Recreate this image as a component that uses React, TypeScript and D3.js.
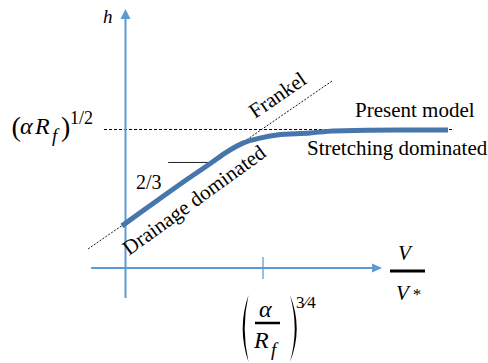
import React from 'react';
import * as d3 from 'd3';

// Present model curve (V/V*, h) in chart units
const curveV = [-0.13, 0.82, 2.05, 3.11, 3.62, 4.27, 4.89, 5.51, 6.71, 7.55, 9.98, 11.73];
const curveH = [1.52, 2.2, 3.07, 3.79, 4.15, 4.51, 4.69, 4.8, 4.87, 4.95, 4.98, 4.98];
// Frankel law (straight line, slope 2/3)
const frankelV = [-1.36, 7.51];
const frankelH = [0.69, 6.75];
// plateau (alpha R_f)^{1/2}
const plateauV = [-0.78, 11.95];
const plateauH = 5;
// slope marker
const slopeMarkV = [1.55, 3.11];
const slopeMarkH = 3.81;
// x tick at (alpha/R_f)^{3/4}
const xTick = 5;
const xAxisExtent = [-1.25, 9.33];
const yAxisExtent = [-1.08, 9.35];

const FONT = "'Liberation Serif', 'Times New Roman', Times, serif";
const AXIS = '#5b9bd5';
const CURVE = '#4676ab';

export default function App() {
  const x = d3.scaleLinear().domain([0, 5]).range([125.5, 263]);
  const y = d3.scaleLinear().domain([0, 5]).range([268, 129.5]);

  const pts: [number, number][] = curveV.map((v, i) => [v, curveH[i]]);
  const line = d3
    .line<[number, number]>()
    .x((d) => x(d[0]))
    .y((d) => y(d[1]))
    .curve(d3.curveMonotoneX);

  const x0 = x(0);
  const y0 = y(0);
  const xTip = x(xAxisExtent[1]);
  const yTip = y(yAxisExtent[1]);

  const xt = x(xTick);

  // big parentheses around alpha/R_f
  const pTop = 295;
  const pBot = 362;
  const pMid = (pTop + pBot) / 2;
  const lp = 248.5;
  const rp = 290;

  const tf: React.CSSProperties = { fontFamily: FONT };

  return (
    <svg
      width={488}
      height={363}
      style={{ position: 'absolute', left: 0, top: 0, background: '#fff', fontFamily: FONT }}
    >
      <rect width={488} height={363} fill="#fff" />
      {/* plateau dashed line */}
      <line
        x1={x(plateauV[0])}
        x2={x(plateauV[1])}
        y1={y(plateauH)}
        y2={y(plateauH)}
        stroke="#000"
        strokeWidth={1}
        strokeDasharray="3,2"
      />
      {/* Frankel dotted line */}
      <line
        x1={x(frankelV[0])}
        y1={y(frankelH[0])}
        x2={x(frankelV[1])}
        y2={y(frankelH[1])}
        stroke="#000"
        strokeWidth={0.9}
        strokeDasharray="2,1.5"
      />
      {/* axes */}
      <line x1={x(xAxisExtent[0])} x2={xTip - 9} y1={y0} y2={y0} stroke={AXIS} strokeWidth={2} />
      <polygon points={`${xTip},${y0} ${xTip - 10},${y0 - 4.5} ${xTip - 10},${y0 + 4.5}`} fill={AXIS} />
      <line x1={x0} x2={x0} y1={y(yAxisExtent[0])} y2={yTip + 9} stroke={AXIS} strokeWidth={2} />
      <polygon points={`${x0},${yTip} ${x0 - 5},${yTip + 10} ${x0 + 5},${yTip + 10}`} fill={AXIS} />
      <line x1={xt} x2={xt} y1={y0 - 11} y2={y0 + 11} stroke={AXIS} strokeWidth={1.3} />

      {/* slope marker */}
      <line
        x1={x(slopeMarkV[0])}
        x2={x(slopeMarkV[1])}
        y1={y(slopeMarkH)}
        y2={y(slopeMarkH)}
        stroke="#222"
        strokeWidth={1}
      />

      {/* model curve */}
      <path d={line(pts) || ''} fill="none" stroke={CURVE} strokeWidth={5} strokeLinecap="butt" />

      {/* y label h */}
      <text style={tf} x={103} y={23} fontSize={19} fontStyle="italic">h</text>

      {/* (alpha R_f)^{1/2} */}
      <text style={tf} y={134} fontSize={24}>
        <tspan x={11.5} y={135.5} fontSize={28}>(</tspan>
        <tspan x={20} y={134} fontStyle="italic">α</tspan>
        <tspan x={35} y={134} fontStyle="italic">R</tspan>
        <tspan x={52} y={142} fontSize={19} fontStyle="italic">f</tspan>
        <tspan x={61} y={135.5} fontSize={28}>)</tspan>
        <tspan x={70} y={124} fontSize={18}>1/2</tspan>
      </text>

      {/* slope label */}
      <text style={tf} x={136} y={189} fontSize={20}>2/3</text>

      {/* Frankel */}
      <text style={tf} x={255} y={119} fontSize={21} transform="rotate(-34.5 255 119)">Frankel</text>

      {/* Drainage dominated */}
      <text style={tf} x={129} y={256} fontSize={21} transform="rotate(-36 129 256)">Drainage dominated</text>

      {/* Present model / Stretching dominated */}
      <text style={tf} x={355} y={117} fontSize={21}>Present model</text>
      <text style={tf} x={307} y={155} fontSize={21}>Stretching dominated</text>

      {/* x label V / V* */}
      <text style={tf} x={398} y={260} fontSize={21} fontStyle="italic">V</text>
      <line x1={390} x2={425} y1={271} y2={271} stroke="#000" strokeWidth={3} />
      <text style={tf} y={300} fontSize={21} fontStyle="italic">
        <tspan x={396}>V</tspan>
        <tspan x={412} fontSize={17}>*</tspan>
      </text>

      {/* (alpha / R_f)^{3/4} */}
      <path
        d={`M${lp},${pTop} Q${lp - 11.6},${pMid} ${lp},${pBot} Q${lp - 7.6},${pMid} ${lp},${pTop} Z`}
        fill="#000"
      />
      <path
        d={`M${rp},${pTop} Q${rp + 13.4},${pMid} ${rp},${pBot} Q${rp + 9.4},${pMid} ${rp},${pTop} Z`}
        fill="#000"
      />
      <text style={tf} x={259} y={317} fontSize={24} fontStyle="italic">α</text>
      <line x1={255} x2={280} y1={323} y2={323} stroke="#000" strokeWidth={2.5} />
      <text style={tf} y={348} fontSize={24} fontStyle="italic">
        <tspan x={254}>R</tspan>
        <tspan x={271} y={356} fontSize={19}>f</tspan>
      </text>
      <text style={tf} x={296} y={308} fontSize={17}>3⁄4</text>
    </svg>
  );
}
